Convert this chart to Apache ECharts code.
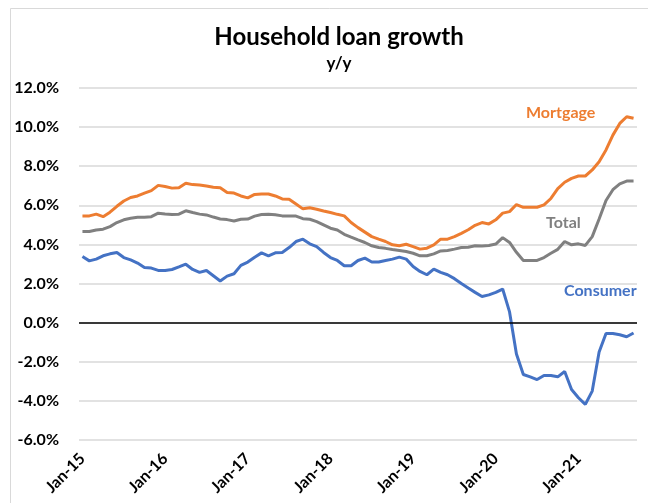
<!DOCTYPE html>
<html>
<head>
<meta charset="utf-8">
<script src="https://cdn.jsdelivr.net/npm/echarts@6/dist/echarts.min.js"></script>
<style>
  html, body { margin: 0; padding: 0; background: #fff; }
  #chart { width: 648px; height: 503px; }
</style>
</head>
<body>
<div id="chart"></div>
<script>
// monthly, Jan-15 .. Sep-21
const monthNames = ['Jan', 'Feb', 'Mar', 'Apr', 'May', 'Jun', 'Jul', 'Aug', 'Sep', 'Oct', 'Nov', 'Dec'];
const years = ['15', '16', '17', '18', '19', '20', '21'];
const lastMonthOf21 = 9;

const mortgage = [
  5.46, 5.46, 5.55, 5.42, 5.65, 5.95, 6.22, 6.40, 6.48, 6.62, 6.75, 7.02,
  6.96, 6.88, 6.90, 7.13, 7.06, 7.04, 6.99, 6.93, 6.90, 6.66, 6.63, 6.48,
  6.38, 6.56, 6.58, 6.58, 6.48, 6.33, 6.31, 6.07, 5.82, 5.88, 5.80, 5.71,
  5.63, 5.54, 5.46, 5.12, 4.86, 4.63, 4.40, 4.27, 4.15, 3.98, 3.93, 4.01,
  3.89, 3.76, 3.81, 3.98, 4.27, 4.27, 4.40, 4.57, 4.75, 4.98, 5.12, 5.05,
  5.26, 5.60, 5.68, 6.04, 5.90, 5.90, 5.90, 6.02, 6.35, 6.85, 7.18, 7.38,
  7.50, 7.50, 7.81, 8.23, 8.83, 9.59, 10.19, 10.53, 10.45
];

const total = [
  4.66, 4.66, 4.74, 4.78, 4.91, 5.12, 5.26, 5.34, 5.39, 5.39, 5.42, 5.60,
  5.56, 5.53, 5.55, 5.72, 5.63, 5.55, 5.51, 5.40, 5.30, 5.27, 5.20, 5.29,
  5.30, 5.45, 5.53, 5.55, 5.52, 5.46, 5.45, 5.45, 5.32, 5.29, 5.17, 5.00,
  4.83, 4.74, 4.52, 4.37, 4.23, 4.10, 3.93, 3.84, 3.80, 3.74, 3.69, 3.64,
  3.55, 3.42, 3.42, 3.52, 3.67, 3.69, 3.76, 3.84, 3.86, 3.93, 3.92, 3.95,
  4.02, 4.35, 4.10, 3.60, 3.18, 3.18, 3.18, 3.33, 3.55, 3.75, 4.15, 3.98,
  4.03, 3.95, 4.40, 5.30, 6.25, 6.80, 7.10, 7.24, 7.24
];

const consumer = [
  3.38, 3.16, 3.25, 3.42, 3.52, 3.59, 3.33, 3.21, 3.05, 2.82, 2.79, 2.67,
  2.67, 2.72, 2.85, 2.99, 2.72, 2.57, 2.67, 2.40, 2.13, 2.38, 2.50, 2.93,
  3.10, 3.35, 3.57, 3.42, 3.57, 3.59, 3.84, 4.15, 4.27, 4.03, 3.89, 3.59,
  3.33, 3.18, 2.91, 2.91, 3.18, 3.30, 3.10, 3.10, 3.18, 3.25, 3.35, 3.25,
  2.87, 2.62, 2.45, 2.74, 2.57, 2.45, 2.25, 2.00, 1.77, 1.55, 1.34, 1.42,
  1.55, 1.72, 0.55, -1.60, -2.65, -2.77, -2.91, -2.70, -2.70, -2.77, -2.50, -3.42,
  -3.84, -4.18, -3.50, -1.50, -0.55, -0.55, -0.62, -0.72, -0.53
];

const yMin = -6;
const yMax = 12;
const yStep = 2;

const categories = [];
years.forEach(function (y, yi) {
  const n = yi === years.length - 1 ? lastMonthOf21 : 12;
  for (let m = 0; m < n; m++) {
    categories.push(monthNames[m] + '-' + y);
  }
});

const font = 'Lato, "Open Sans", sans-serif';

const chart = echarts.init(document.getElementById('chart'), null, { renderer: 'canvas' });

function lineSeries(name, color, data) {
  return {
    name: name,
    type: 'line',
    data: data,
    symbol: 'none',
    smooth: false,
    lineStyle: { color: color, width: 3 },
    itemStyle: { color: color }
  };
}

const option = {
  animation: false,
  backgroundColor: '#fff',
  textStyle: { fontFamily: font },
  title: {
    text: 'Household loan growth',
    subtext: 'y/y',
    left: 334,
    top: 20,
    textAlign: 'center',
    itemGap: 6,
    textStyle: { fontSize: 24, fontWeight: 'bold', color: '#000', fontFamily: font },
    subtextStyle: { fontSize: 17, fontWeight: 'bold', color: '#000', fontFamily: font }
  },
  grid: { left: 79, right: 11, top: 88, bottom: 63 },
  xAxis: {
    type: 'category',
    data: categories,
    boundaryGap: true,
    axisLine: { show: false },
    axisTick: { show: false },
    splitLine: { show: false },
    axisLabel: {
      interval: 11,
      rotate: 45,
      margin: 16,
      color: '#000',
      fontSize: 16,
      fontWeight: 'bold',
      fontFamily: font
    }
  },
  yAxis: {
    type: 'value',
    min: yMin,
    max: yMax,
    interval: yStep,
    axisLine: { show: false },
    axisTick: { show: false },
    splitLine: { lineStyle: { color: '#d9d9d9', width: 1.5 } },
    axisLabel: {
      margin: 20,
      color: '#000',
      fontSize: 16,
      fontWeight: 'bold',
      fontFamily: font,
      formatter: function (v) { return v.toFixed(1) + '%'; }
    }
  },
  series: [
    Object.assign(lineSeries('Total', '#808080', total), {
      markLine: {
        silent: true,
        symbol: 'none',
        label: { show: false },
        lineStyle: { color: '#000', width: 1.5, type: 'solid' },
        data: [{ yAxis: 0 }]
      }
    }),
    lineSeries('Mortgage', '#ED7D31', mortgage),
    lineSeries('Consumer', '#4472C4', consumer)
  ],
  graphic: [
    {
      type: 'rect',
      shape: { x: 10.5, y: 8.5, width: 660, height: 520 },
      style: { fill: 'none', stroke: '#d9d9d9', lineWidth: 1 },
      silent: true,
      z: -10
    },
    {
      type: 'text', left: 526, top: 105,
      style: { text: 'Mortgage', fill: '#ED7D31', font: 'bold 16px ' + font }
    },
    {
      type: 'text', left: 546, top: 215,
      style: { text: 'Total', fill: '#808080', font: 'bold 16px ' + font }
    },
    {
      type: 'text', left: 564, top: 283,
      style: { text: 'Consumer', fill: '#4472C4', font: 'bold 16px ' + font }
    }
  ]
};

chart.setOption(option);
</script>
</body>
</html>
